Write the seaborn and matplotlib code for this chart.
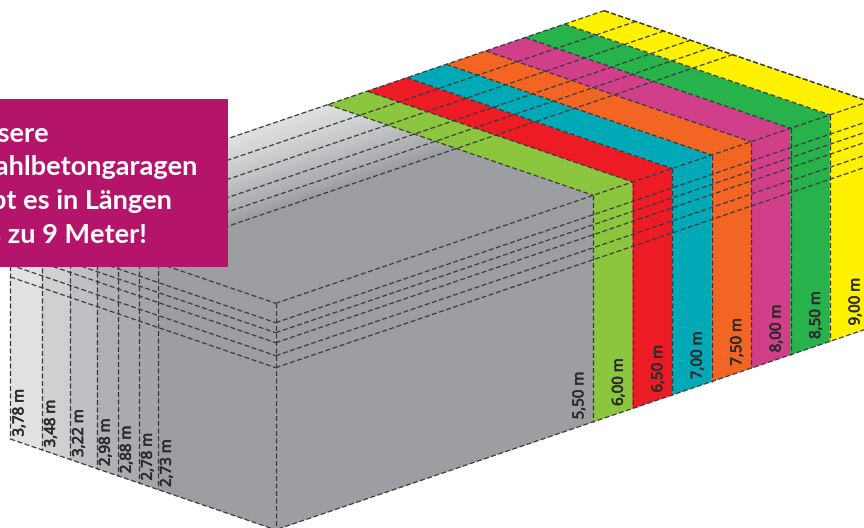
import matplotlib
matplotlib.use('Agg')
import matplotlib.pyplot as plt
import matplotlib.patheffects as pe
import pandas as pd
import seaborn as sns

# garage lengths (right wall) and widths (left wall), as labelled
lengths = [5.5, 6.0, 6.5, 7.0, 7.5, 8.0, 8.5, 9.0]
length_labels = ['5,50 m', '6,00 m', '6,50 m', '7,00 m', '7,50 m', '8,00 m', '8,50 m', '9,00 m']
length_colors = ['#8cc63f', '#ed1c24', '#00a9b5', '#f26522', '#d13f8b', '#27b24b', '#fff200']

width_labels = ['3,78 m', '3,48 m', '3,22 m', '2,98 m', '2,88 m', '2,78 m', '2,73 m']
# the drawing is schematic, widths are not to scale: depth
drawn_depths = [3.78, 3.33, 2.93, 2.55, 2.25, 1.95, 1.68]
width_colors = ['#e1e2e4', '#cfd0d2', '#bfc0c3', '#b0b1b4', '#aaabae', '#a4a5a8', '#9d9ea1']
# roof is a soft ramp from the back edge down to the 2,78 line
roof_ramp = ['#e2e3e5', '#d6d7d9', '#c8c9cb', '#b8b9bc', '#adaeb1', '#9d9ea1']

# heights, as drop below the roof (the top one is the roof itself)
height_drops = [0, 19.4, 29.4, 39.4, 52.4, 64.4]
wall_height = 226.5

box_lines = ['Unsere', 'Stahlbetongaragen', 'gibt es in Längen', 'bis zu 9 Meter!']
box_line_ends = [49, 197.5, 172, 147]

# projection, everything goes to picture pixels
CORNER = (275.7, 303.3)
LEN_START = 1.475
LEN_X = 78.9
DEPTH_X = 70.2
SLOPE = 0.34
DEPTH_SLOPE = 0.342
N_STRIPS = 12  # per roof band


def proj(length, depth, drop=0):
    dx = (length - LEN_START) * LEN_X
    dd = depth * DEPTH_X
    return CORNER[0] + dx - dd, CORNER[1] - dx * SLOPE - dd * DEPTH_SLOPE + drop


def edge_rows(rows, name, a, b):
    rows.append({'edge': name, 'x': a[0], 'y': a[1]})
    rows.append({'edge': name, 'x': b[0], 'y': b[1]})


def patch(ax, pts, col):
    ax.fill(*zip(*pts), facecolor=col, edgecolor=col, lw=0.3)


def size_label(ax, x, y, lab):
    ax.text(x, y, lab, rotation=90, ha='center', va='bottom', fontsize=10.8,
            family='Noto Sans', color='#2b2b2d',
            path_effects=[pe.withStroke(linewidth=0.45, foreground='#2b2b2d')])


sns.set_theme(style='white')
fig = plt.figure(figsize=(8.64, 5.28), dpi=100)
ax = fig.add_axes([0, 0, 1, 1])
ax.set_xlim(0, 864)
ax.set_ylim(528, 0)
ax.axis('off')

max_depth = drawn_depths[0]
max_len = lengths[-1]
edges = []

# left wall, one band per width
bands = drawn_depths + [0]
for i, col in enumerate(width_colors):
    d0, d1 = bands[i], bands[i + 1]
    patch(ax, [proj(LEN_START, d0), proj(LEN_START, d1), proj(LEN_START, d1, wall_height), proj(LEN_START, d0, wall_height)], col)

# roof over it
patch(ax, [proj(LEN_START, max_depth), proj(LEN_START, 0), proj(lengths[0], 0), proj(lengths[0], max_depth)], width_colors[-1])
for i in range(5):
    pal = sns.blend_palette([roof_ramp[i], roof_ramp[i + 1]], N_STRIPS)
    d0, d1 = drawn_depths[i], drawn_depths[i + 1]
    step = (d0 - d1) / N_STRIPS
    for j, col in enumerate(pal):
        a, b = d0 - j * step, d0 - (j + 1) * step
        patch(ax, [proj(LEN_START, a), proj(LEN_START, b), proj(lengths[0], b), proj(lengths[0], a)], col)

# right wall up to the shortest length
patch(ax, [proj(LEN_START, 0), proj(lengths[0], 0), proj(lengths[0], 0, wall_height), proj(LEN_START, 0, wall_height)], width_colors[-1])

# coloured length bands
for i, col in enumerate(length_colors):
    l0, l1 = lengths[i], lengths[i + 1]
    patch(ax, [proj(l0, 0), proj(l1, 0), proj(l1, 0, wall_height), proj(l0, 0, wall_height)], col)
    patch(ax, [proj(l0, 0), proj(l1, 0), proj(l1, max_depth), proj(l0, max_depth)], col)

# dashed construction lines
for d in drawn_depths:
    edge_rows(edges, 'w%s' % d, proj(LEN_START, d), proj(LEN_START, d, wall_height))
for d in drawn_depths[1:-1]:
    edge_rows(edges, 'r%s' % d, proj(LEN_START, d), proj(max_len, d))
for ln in lengths:
    edge_rows(edges, 'l%s' % ln, proj(ln, max_depth), proj(ln, 0))
    edge_rows(edges, 'v%s' % ln, proj(ln, 0), proj(ln, 0, wall_height))
edge_rows(edges, 'corner', proj(LEN_START, 0), proj(LEN_START, 0, wall_height))
edge_rows(edges, 'back', proj(LEN_START, max_depth), proj(max_len, max_depth))
edge_rows(edges, 'end', proj(max_len, max_depth), proj(max_len, 0))
for h in height_drops:
    edge_rows(edges, 'hl%s' % h, proj(LEN_START, max_depth, h), proj(LEN_START, 0, h))
    edge_rows(edges, 'hr%s' % h, proj(LEN_START, 0, h), proj(max_len, 0, h))
edge_rows(edges, 'bl', proj(LEN_START, max_depth, wall_height), proj(LEN_START, 0, wall_height))
edge_rows(edges, 'br', proj(LEN_START, 0, wall_height), proj(max_len, 0, wall_height))

edge_df = pd.DataFrame(edges)
sns.lineplot(data=edge_df, x='x', y='y', units='edge', estimator=None, sort=False,
             color='#38383a', lw=0.9, dashes=False, linestyle=(0, (4, 2)), ax=ax, legend=False)
ax.set_xlim(0, 864)
ax.set_ylim(528, 0)

# size labels
for d, lab in zip(drawn_depths, width_labels):
    x, y = proj(LEN_START, d, wall_height)
    size_label(ax, x + 9.5, y - 2.5, lab)
for ln, lab in zip(lengths, length_labels):
    x, y = proj(ln, 0, wall_height)
    size_label(ax, x - 13.5, y - 2.5, lab)

# magenta box with the slogan
box_x = [0, 228, 228, 0]
box_y = [99, 99, 267, 267]
ax.fill(box_x, box_y, color='#b5146b', lw=0, zorder=5)
for i, (txt, end) in enumerate(zip(box_lines, box_line_ends)):
    ax.text(end, 141.7 + i * 33.7, txt, ha='right', va='baseline', fontsize=19.5,
            family='Lato', fontweight='bold', color='white', zorder=6)

fig.savefig('out.png', dpi=100)
